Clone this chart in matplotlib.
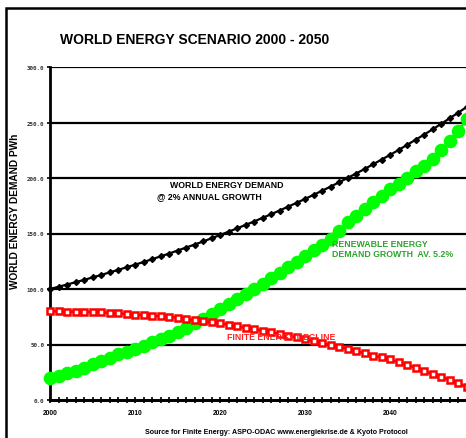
import matplotlib
matplotlib.use("Agg")
import matplotlib.pyplot as plt
from matplotlib.patches import Rectangle
from matplotlib.ticker import MultipleLocator, FixedLocator

years = list(range(2000, 2050))

world_demand = [100.0, 102.0, 104.0, 106.1, 108.2, 110.4, 112.6, 114.9, 117.2, 119.5,
                121.9, 124.3, 126.8, 129.4, 131.9, 134.6, 137.3, 140.0, 142.8, 145.7,
                148.6, 151.6, 154.6, 157.7, 160.8, 164.1, 167.3, 170.7, 174.1, 177.6,
                181.1, 184.8, 188.5, 192.2, 196.1, 200.0, 204.0, 208.1, 212.3, 216.5,
                220.8, 225.2, 229.8, 234.4, 239.0, 243.8, 248.7, 253.7, 258.7, 263.9]

renewable = [20, 22, 24, 26.5, 29, 32, 35, 38, 41, 43.5,
             46, 49, 52, 55, 58, 61, 65, 69, 73, 77.5,
             82, 86.5, 91, 95.5, 100, 104.5, 109.5, 114.5, 119.5, 124.5,
             129.5, 135, 140, 145, 152, 160, 166, 172, 178, 184,
             190, 195, 200, 206, 211, 217, 225, 233, 242, 253]

finite = [80, 80, 79.5, 79.5, 79.5, 79, 79, 78.5, 78, 77.5,
          77, 76.5, 76, 75.5, 75, 74, 73, 72, 71, 70,
          69, 68, 66.5, 65, 64, 62.5, 61, 59.5, 58, 56.5,
          55, 53, 51.5, 49.5, 48, 46, 44, 42, 40, 38.5,
          36.5, 34, 31.5, 29, 26, 23.5, 21, 18, 15, 12]

y_ticks = [0, 50, 100, 150, 200, 250, 300]
y_tick_labels = ["0.0", "50.0", "100.0", "150.0", "200.0", "250.0", "300.0"]
x_label_years = [2000, 2010, 2020, 2030, 2040]

W, H = 466, 439
fig = plt.figure(figsize=(W / 100, H / 100), dpi=100)
fig.patch.set_facecolor("white")

# outer frame
fig.patches.append(Rectangle((6 / W, -0.2), 1.2, 1 - 9 / H + 0.2, transform=fig.transFigure,
                             fill=False, edgecolor="black", linewidth=1.8, zorder=0))

ax_left = 50 / W
ax_bottom = 1 - 401 / H
ax_width = (475 - 50) / W
ax_height = (401 - 68) / H
ax = fig.add_axes([ax_left, ax_bottom, ax_width, ax_height])
ax.set_facecolor("none")

ax.set_xlim(2000, 2050)
ax.set_ylim(0, 300)

for sp in ["top", "right"]:
    ax.spines[sp].set_visible(False)
ax.spines["left"].set_linewidth(2.0)
ax.spines["bottom"].set_linewidth(2.2)

for yv in y_ticks[1:]:
    ax.axhline(yv, color="black", linewidth=1.6, zorder=1)

ax.yaxis.set_major_locator(FixedLocator(y_ticks))
ax.set_yticklabels(y_tick_labels, family="DejaVu Sans Mono", fontweight="bold",
                   fontsize=4.2, color="#333333")
ax.tick_params(axis="y", direction="out", length=2.5, width=1.2, pad=1.5)

ax.xaxis.set_major_locator(FixedLocator(x_label_years))
ax.xaxis.set_minor_locator(MultipleLocator(1))
ax.set_xticklabels([str(y) for y in x_label_years], family="Liberation Sans",
                   fontweight="bold", fontsize=4.8)
ax.tick_params(axis="x", which="both", direction="inout", length=5, width=1.2, pad=4)

ax.plot(years, renewable, color="#00ee00", linewidth=1.5, marker="o", markersize=8.8,
        markerfacecolor="#00ff00", markeredgecolor="#00ff00", zorder=3, clip_on=False)
ax.plot(years, finite, color="#ff0000", linewidth=1.9, marker="s", markersize=4.3,
        markerfacecolor="#ffffff", markeredgecolor="#ff0000", markeredgewidth=1.8,
        zorder=4, clip_on=False)
ax.plot(years, world_demand, color="black", linewidth=1.6, marker="D", markersize=3.0,
        markerfacecolor="black", markeredgecolor="black", zorder=5, clip_on=False)

font = "Liberation Sans"
fig.text(60 / W, 1 - 40 / H, "WORLD ENERGY SCENARIO 2000 - 2050", family=font,
         fontweight="bold", fontsize=10, ha="left", va="center")
fig.text(15 / W, 1 - 211 / H, "WORLD ENERGY DEMAND PWh", family=font, fontweight="bold",
         fontsize=7.3, rotation=90, ha="center", va="center")
fig.text(276 / W, 1 - 433 / H,
         "Source for Finite Energy: ASPO-ODAC www.energiekrise.de & Kyoto Protocol",
         family=font, fontweight="bold", fontsize=5.1, ha="center", va="center")

fig.text(170 / W, 1 - 185 / H, "WORLD ENERGY DEMAND", family=font, fontweight="bold",
         fontsize=6.3, ha="left", va="center", zorder=0)
fig.text(157 / W, 1 - 197 / H, "@ 2% ANNUAL GROWTH", family=font, fontweight="bold",
         fontsize=6.3, ha="left", va="center", zorder=0)
fig.text(332 / W, 1 - 245 / H, "RENEWABLE ENERGY", family=font, fontweight="bold",
         fontsize=6.3, ha="left", va="center", color="#2ca52c", zorder=0)
fig.text(332 / W, 1 - 255 / H, "DEMAND GROWTH  AV. 5.2%", family=font, fontweight="bold",
         fontsize=6.3, ha="left", va="center", color="#2ca52c", zorder=0)
fig.text(227 / W, 1 - 338 / H, "FINITE ENERGY DECLINE", family=font, fontweight="bold",
         fontsize=6.3, ha="left", va="center", color="#ff2020", zorder=0)

fig.savefig("out.png", dpi=100)
